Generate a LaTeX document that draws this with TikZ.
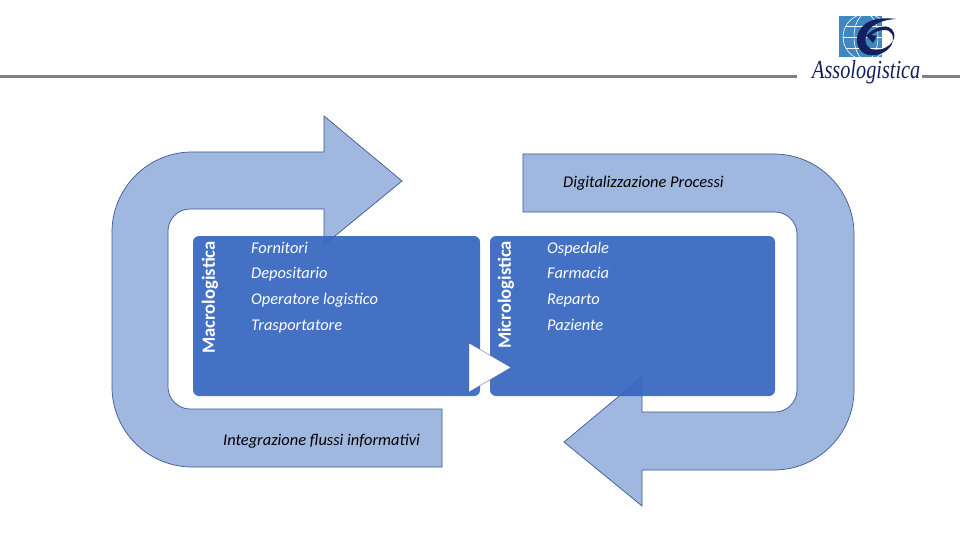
\documentclass[tikz,border=0pt]{standalone}
\usepackage{fontspec}
\setmainfont{Carlito}
\newfontfamily\logofont{Liberation Serif}
\definecolor{bandblue}{HTML}{A0B7E0}
\definecolor{bandline}{HTML}{3A5A94}
\definecolor{boxblue}{HTML}{3667C0}
\definecolor{rulegray}{HTML}{7F8080}
\definecolor{logoblue}{HTML}{3F87C0}
\definecolor{logonavy}{HTML}{14205E}
\tikzset{
  band/.style={fill=bandblue,draw=bandline,line width=0.7pt},
  panel/.style={fill=boxblue,fill opacity=0.93,rounded corners=6pt},
  entry/.style={anchor=base west,text=white,font=\fontsize{16.4}{18}\selectfont\itshape,inner sep=0pt},
  sidelabel/.style={rotate=90,text=white,font=\fontsize{18.6}{20}\selectfont\bfseries,inner sep=0pt},
  bandtext/.style={anchor=base west,text=black,font=\fontsize{16.4}{18}\selectfont\itshape,inner sep=0pt},
  topline/.style={draw=rulegray,line width=3pt}
}
\begin{document}
\begin{tikzpicture}[x=1pt,y=-1pt]
 \useasboundingbox (0,0) rectangle (960,540);
 \fill[white] (0,0) rectangle (960,540);
 \draw[topline] (0,77)--(797,77);
 \draw[topline] (922,77)--(960,77);

 \draw[band] (442,467)--(192,467) .. controls (148,467) and (112,431) .. (112,387)--(112,232) .. controls (112,188) and (148,152) .. (192,152)--(324,152)--(324,116)--(402,181)--(324,245)--(324,209)--(190,209) .. controls (178,209) and (168,219) .. (168,231)--(168,387) .. controls (168,399) and (178,409) .. (190,409)--(442,409)--cycle;
 \draw[band] (523,154)--(774,154) .. controls (818,154) and (854,190) .. (854,234)--(854,390) .. controls (854,434) and (818,470) .. (774,470)--(642,470)--(642,506)--(564,442)--(642,377)--(642,412)--(775,412) .. controls (787,412) and (797,402) .. (797,390)--(797,234) .. controls (797,222) and (787,212) .. (775,212)--(523,212)--cycle;

 \fill[panel] (193,236) rectangle (480,396);
 \fill[panel] (490,236) rectangle (775,396);
 \draw[fill=white,draw=bandline,line width=0.3pt] (469,343)--(511,367.5)--(469,392)--cycle;

 \node[sidelabel] (macro) at (210,297.5) {Macrologistica};
 \node[sidelabel] (micro) at (506,295) {Micrologistica};
 \node[entry] (fornitori) at (251,253) {Fornitori};
 \node[entry] (depositario) at (251,278) {Depositario};
 \node[entry] (operatore) at (251,304) {Operatore logistico};
 \node[entry] (trasportatore) at (251,330) {Trasportatore};
 \node[entry] (ospedale) at (547,253) {Ospedale};
 \node[entry] (farmacia) at (547,278) {Farmacia};
 \node[entry] (reparto) at (547,304) {Reparto};
 \node[entry] (paziente) at (547,330) {Paziente};
 \node[bandtext] (digitale) at (563,187) {Digitalizzazione Processi};
 \node[bandtext] (integrazione) at (223,445) {Integrazione flussi informativi};

 \fill[logoblue] (839,16) rectangle (882,57);
 \begin{scope}
  \clip (839,16) rectangle (882,57);
  \draw[white,line width=0.6pt] (866,37) circle (23);
  \draw[white,line width=0.6pt] (866,37) ellipse (12 and 23);
  \draw[white,line width=0.6pt] (843,37)--(889,37) (846,26)--(886,26) (846,48)--(886,48);
 \end{scope}
 \fill[logonavy,even odd rule] (896,19) .. controls (876,16) and (859,22) .. (857,38) .. controls (856,51) and (866,57) .. (876,55) .. controls (888,53) and (896,43) .. (892,34) .. controls (889,28) and (879,29) .. (871,35) -- (877,36) -- (873,43) -- (866,36) .. controls (875,26) and (890,22) .. (894,33) .. controls (897,42) and (884,51) .. (875,50) .. controls (867,49) and (864,43) .. (866,36) .. controls (868,26) and (880,20) .. (896,19) -- cycle;
 \node[anchor=base west,inner sep=0pt,text=logonavy,xscale=0.78,font=\logofont\itshape\fontsize{26}{28}\selectfont] (logo) at (812,79) {Assologistica};
\end{tikzpicture}
\end{document}
